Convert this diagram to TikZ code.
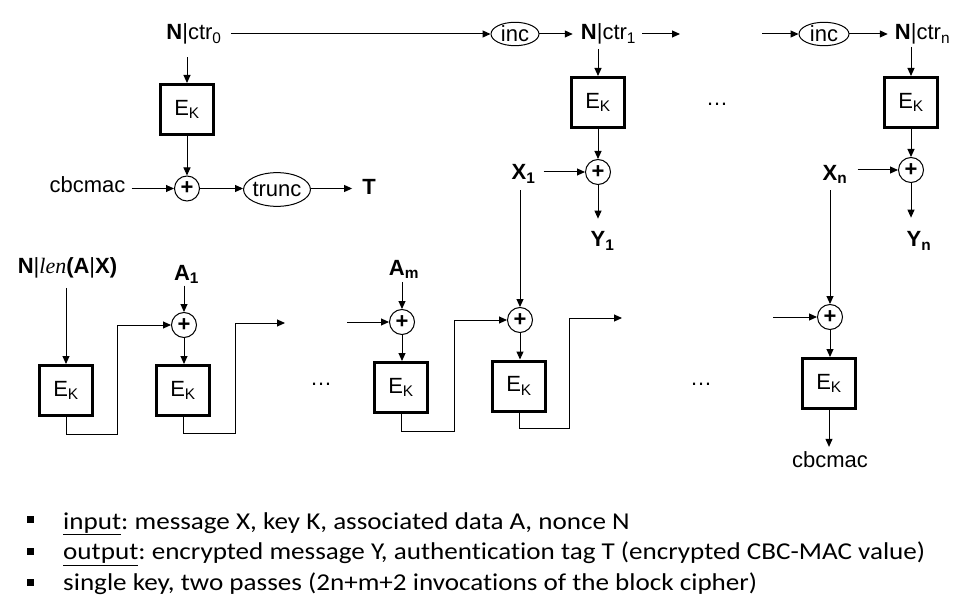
\documentclass[tikz,border=0pt]{standalone}
\usepackage{fontspec}
\setmainfont{Liberation Sans}
\newfontfamily\calib[FakeStretch=1.12,Ligatures=NoCommon]{Carlito}
\newfontfamily\timesit{Liberation Serif}
\usetikzlibrary{shapes.geometric,arrows.meta}
\frenchspacing
\begin{document}
\begin{tikzpicture}[x=1pt,y=-1pt,
  every node/.style={font=\fontsize{22}{26}\selectfont},
  lbl/.style={inner sep=0pt, anchor=base},
  box/.style={draw, line width=3pt, minimum width=53pt, minimum height=50pt, inner sep=0pt},
  xor/.style={circle, draw, line width=1pt, minimum size=25pt, inner sep=0pt},
  oval/.style={ellipse, draw, line width=1pt},
  arr/.style={-{Triangle[length=8pt,width=7pt]}, line width=1pt},
  ln/.style={line width=1pt},
  bul/.style={fill=black, draw=none, minimum size=7pt, inner sep=0pt},
  btxt/.style={anchor=base west, inner sep=0pt, font=\calib\fontsize{24.2}{28}\selectfont}
]
\useasboundingbox (0,0) rectangle (971,612);

% ---------- top row ----------
\node[lbl] (c0) at (194,39.5) {\textbf{N}|ctr\textsubscript{0}};
\node[box] (k0) at (187,109.5) {E\textsubscript{K}};
\node[xor] (x0) at (187,188.5) {\textbf{+}};
\node[lbl] (cm) at (87.5,193) {cbcmac};
\node[oval, inner xsep=-0.8pt, inner ysep=4.7pt] (tr) at (277,189.5) {trunc};
\node[lbl] (T) at (369,195) {\textbf{T}};

\node[oval, inner xsep=2.9pt, inner ysep=0.2pt] (i1) at (515,34) {inc};
\node[lbl] (c1) at (608.5,40) {\textbf{N}|ctr\textsubscript{1}};
\node[box] (k1) at (598,102.5) {E\textsubscript{K}};
\node[xor] (x1) at (598,172) {\textbf{+}};
\node[lbl] (X1) at (523.5,180) {\textbf{X\textsubscript{1}}};
\node[lbl] (Y1) at (602.5,247) {\textbf{Y\textsubscript{1}}};
\coordinate (t1) at (680,34);
\node[lbl] (d0) at (717,106) {…};
\coordinate (t2) at (762,34);
\node[oval, inner xsep=3.6pt, inner ysep=0.2pt] (i2) at (824,34) {inc};
\node[lbl] (cn) at (922.5,40) {\textbf{N}|ctr\textsubscript{n}};
\node[box] (kn) at (911,102.5) {E\textsubscript{K}};
\node[xor] (xn) at (911,170) {\textbf{+}};
\node[lbl] (Xn) at (835,180.5) {\textbf{X\textsubscript{n}}};
\node[lbl] (Yn) at (919,247) {\textbf{Y\textsubscript{n}}};

\draw[arr, shorten <=9pt] (c0.east |- i1.west) -- (i1.west);
\draw[arr, shorten <=13pt] (k0.north |- c0.south) -- (k0.north);
\draw[arr] (k0.south) -- (x0.north);
\draw[arr, shorten <=6pt] (cm.east |- x0.west) -- (x0.west);
\draw[arr] (x0.east) -- (x0.east -| tr.west);
\draw[arr, shorten >=10pt] (x0.east -| tr.east) -- (x0.east -| T.west);

\draw[arr, shorten >=8pt] (i1.east) -- (i1.east -| c1.west);
\draw[arr, shorten <=6pt] (c1.east |- i1.east) -- (t1);
\draw[arr] (t2) -- (i2.west);
\draw[arr, shorten >=7pt] (i2.east) -- (i2.east -| cn.west);
\draw[arr, shorten <=4pt] (k1.north |- c1.south) -- (k1.north);
\draw[arr] (k1.south) -- (x1.north);
\draw[arr, shorten <=8pt] (X1.east |- x1.west) -- (x1.west);
\draw[arr, shorten >=13pt] (x1.south) -- (x1.south |- Y1.north);
\draw[arr, shorten <=2pt] (kn.north |- cn.south) -- (kn.north);
\draw[arr] (kn.south) -- (xn.north);
\draw[arr, shorten <=10pt] (Xn.east |- xn.west) -- (xn.west);
\draw[arr, shorten >=14pt] (xn.south) -- (xn.south |- Yn.north);

% ---------- bottom row ----------
\node[lbl] (nl) at (67.5,273) {\textbf{N}|{\timesit\itshape len}\textbf{(A}|\textbf{X)}};
\node[box] (b0) at (66,390.5) {E\textsubscript{K}};
\node[xor] (xa1) at (184,325) {\textbf{+}};
\node[lbl] (A1) at (186.5,280) {\textbf{A\textsubscript{1}}};
\node[box] (b1) at (183,390.5) {E\textsubscript{K}};
\coordinate (s1) at (285,323);
\node[lbl] (d1) at (321,385) {…};
\coordinate (s3) at (347,322);
\node[xor] (xam) at (402,322) {\textbf{+}};
\node[lbl] (Am) at (404,275) {\textbf{A\textsubscript{m}}};
\node[box] (bm) at (401,387.5) {E\textsubscript{K}};
\node[xor] (xx1) at (520,320) {\textbf{+}};
\node[box] (bx1) at (519,386) {E\textsubscript{K}};
\coordinate (s2) at (622,318);
\node[lbl] (d2) at (701,385) {…};
\coordinate (s4) at (773,317);
\node[xor] (xxn) at (830,317) {\textbf{+}};
\node[box] (bxn) at (829,383.5) {E\textsubscript{K}};
\node[lbl] (cm2) at (830,467) {cbcmac};

\draw[arr, shorten <=10pt] (b0.north |- nl.south) -- (b0.north);
\draw[arr] (b0.south) -- ++(0,17) -| ([xshift=-54pt]xa1.west) -- (xa1.west);
\draw[arr, shorten <=2pt] (xa1.north |- A1.south) -- (xa1.north);
\draw[arr] (xa1.south) -- (xa1.south |- b1.north);
\draw[arr] (b1.south) -- ++(0,16) -| ([xshift=-50pt]s1) -- (s1);
\draw[arr] (s3) -- (xam.west);
\draw[arr, shorten <=3.5pt] (xam.north |- Am.south) -- (xam.north);
\draw[arr] (xam.south) -- (xam.south |- bm.north);
\draw[arr] (bm.south) -- ++(0,17) -| ([xshift=-53pt]xx1.west) -- (xx1.west);
\draw[arr, shorten <=6.5pt] (xx1.north |- X1.south) -- (xx1.north);
\draw[arr] (xx1.south) -- (xx1.south |- bx1.north);
\draw[arr] (bx1.south) -- ++(0,16) -| ([xshift=-53pt]s2) -- (s2);
\draw[arr] (s4) -- (xxn.west);
\draw[arr, shorten <=6.5pt] (xxn.north |- Xn.south) -- (xxn.north);
\draw[arr] (xxn.south) -- (xxn.south |- bxn.north);
\draw[arr, shorten >=4pt] (bxn.south) -- (bxn.south |- cm2.north);

% ---------- bullets ----------
\node[bul] (q1) at (30,519.5) {};
\node[btxt] (l1) at (63,529) {\underline{input}: message X, key K, associated data A, nonce N};
\node[bul] (q2) at (30,551) {};
\node[btxt] (l2) at (63,559.5) {\underline{output}: encrypted message Y, authentication tag T (encrypted CBC-MAC value)};
\node[bul] (q3) at (30,582.5) {};
\node[btxt] (l3) at (63,590) {single key, two passes (2n+m+2 invocations of the block cipher)};
\end{tikzpicture}
\end{document}
